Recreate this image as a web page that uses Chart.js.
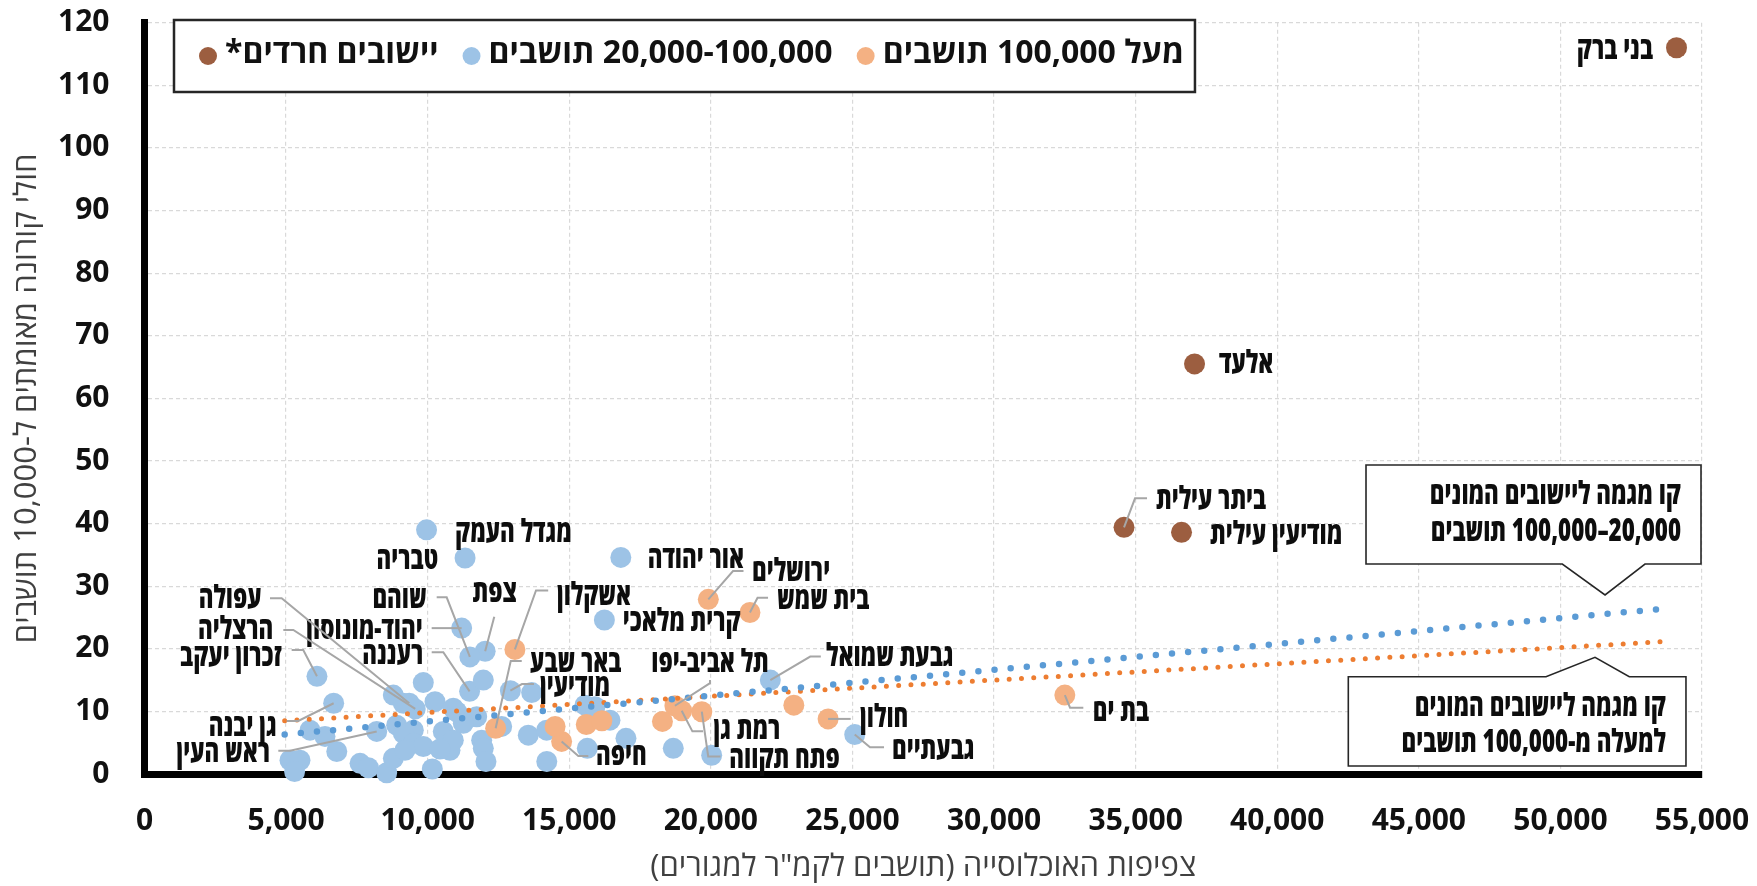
<!DOCTYPE html>
<html lang="he">
<head>
<meta charset="utf-8">
<title>צפיפות האוכלוסייה וחולי קורונה</title>
<script src="https://cdn.jsdelivr.net/npm/chart.js@4.4.1/dist/chart.umd.min.js"></script>
<style>
  html, body { margin: 0; padding: 0; background: #fff; }
  canvas { display: block; }
</style>
</head>
<body>
<canvas id="myChart" width="1757" height="886" dir="rtl"></canvas>
<script>
// יישובים חרדים
var haredimNames = ['בני ברק', 'אלעד', 'ביתר עילית', 'מודיעין עילית']
var haredimX = [54100, 37080, 34590, 36620]
var haredimY = [116, 65.5, 39.4, 38.6]

// מעל 100,000 תושבים
var bigNames = ['ירושלים', 'בית שמש', 'אשקלון', 'באר שבע', 'בת ים', 'חולון', 'תל אביב-יפו', 'רמת גן', 'פתח תקווה', 'חיפה', '', '', '', '', '']
var bigX = [19910, 21380, 13080, 12400, 32500, 24140, 18730, 18970, 19680, 14730, 14500, 15600, 16150, 18290, 22930]
var bigY = [27.9, 25.8, 19.9, 7.3, 12.6, 8.8, 10.9, 10.1, 9.95, 5.2, 7.6, 7.9, 8.5, 8.4, 11.0]

// 20,000-100,000 תושבים
var midNames = ['מגדל העמק', 'טבריה', 'אור יהודה', 'קרית מלאכי', 'יהוד-מונוסון', 'צפת', 'שוהם', 'זכרון יעקב',
      'רעננה', 'מודיעין', 'עפולה', 'הרצליה', 'גן יבנה', 'ראש העין', 'גבעת שמואל', 'גבעתיים']
var midX = [9960, 11320, 16820, 16240, 11200, 12030, 11490, 6090, 11480, 12920, 9350, 9560, 6680, 8200, 22100, 25080,
      9845, 8786, 9139, 10258, 10904, 11024, 11258, 11730, 11964, 13672, 5844, 6374, 5138, 5491, 5300, 6790,
      7612, 7906, 8553, 8788, 8905, 9492, 9139, 9492, 9845, 9198, 10163, 10551, 10787, 10904, 10434, 11258,
      11906, 11964, 12058, 12612, 13553, 14200, 14206, 15554, 15907, 15637, 16437, 17002, 18673, 20028]
var midY = [39.0, 34.5, 34.6, 24.6, 23.3, 19.6, 18.7, 15.6, 13.2, 13.3, 11.3, 10.4, 11.3, 6.8, 15.0, 6.3,
      14.6, 12.6, 11.3, 11.55, 10.5, 9.95, 8.9, 9.15, 15.0, 13.0, 7.0, 6.0, 2.2, 2.2, 0.4, 3.6,
      1.7, 1.0, 0.2, 2.5, 7.8, 7.0, 6.5, 4.9, 4.4, 3.8, 0.8, 6.8, 3.8, 5.4, 4.0, 8.1,
      5.4, 4.1, 2.0, 7.6, 6.2, 7.0, 2.0, 11.0, 10.75, 4.1, 8.6, 5.7, 4.1, 3.0]

// קווי מגמה (נקודות קצה)
var trendMidX = [4950, 53650]
var trendMidY = [6.3, 26.4]
var trendBigX = [4950, 53870]
var trendBigY = [8.5, 21.2]

var xTitle = 'צפיפות האוכלוסייה (תושבים לקמ"ר למגורים)'
var yTitle = 'חולי קורונה מאומתים ל-10,000 תושבים'

// where each name goes, in pixels from its point
var labelSpots = {
      'בני ברק': { align: 'right', dx: -23.5, dy: 2 },
      'אלעד': { align: 'left', dx: 24.5, dy: 0 },
      'ביתר עילית': { align: 'left', dx: 32, dy: -27, leader: [[11, -29], [23, -29]] },
      'מודיעין עילית': { align: 'left', dx: 28.5, dy: 2.7 },
      'ירושלים': { align: 'left', dx: 43.7, dy: -27.3, leader: [[24.7, -28.3], [35.2, -28.3]] },
      'בית שמש': { align: 'left', dx: 27, dy: -12.5, leader: [[7.6, -14.8], [18.1, -14.8]] },
      'אשקלון': { align: 'left', dx: 42, dy: -53, leader: [[21.1, -59], [33.3, -59]] },
      'באר שבע': { align: 'left', dx: 34.4, dy: -65.3, leader: [[15.1, -67.3], [26.1, -67.3]] },
      'בת ים': { align: 'left', dx: 27.9, dy: 16.6, leader: [[5.2, 12.6], [18.5, 12.6]] },
      'חולון': { align: 'left', dx: 32, dy: -1, leader: [[22.6, 0]] },
      'תל אביב-יפו': { align: 'center', dx: 35.1, dy: -42.8, leader: [[35.1, -22.6], [35.1, -25.8]] },
      'רמת גן': { align: 'left', dx: 31.8, dy: 19.2, leader: [[10.7, 20.6], [21.3, 20.6]] },
      'פתח תקווה': { align: 'left', dx: 27.5, dy: 47.3, leader: [[6.4, 44.7], [18.7, 44.7]] },
      'חיפה': { align: 'left', dx: 34.4, dy: 15, leader: [[16.7, 14.6], [26.7, 14.6]] },
      'מגדל העמק': { align: 'left', dx: 28.5, dy: 2.9 },
      'טבריה': { align: 'right', dx: -26.8, dy: 2 },
      'אור יהודה': { align: 'left', dx: 26.9, dy: 2.1 },
      'קרית מלאכי': { align: 'left', dx: 18.4, dy: 1.7 },
      'יהוד-מונוסון': { align: 'right', dx: -39, dy: 2, leader: [[-30, 0]] },
      'צפת': { align: 'center', dx: 9.5, dy: -58, leader: [[9.1, -34.6]] },
      'שוהם': { align: 'right', dx: -43.2, dy: -57.6, leader: [[-23.2, -59.6], [-33.2, -59.6]] },
      'רעננה': { align: 'right', dx: -46.3, dy: -36.4, leader: [[-26.3, -39.1], [-37.9, -39.1]] },
      'מודיעין': { align: 'left', dx: 29.6, dy: -3.7, leader: [[11.6, -6.7], [23.6, -6.7]] },
      'עפולה': { align: 'right', dx: -147.6, dy: -104, leader: [[-127.6, -105], [-139.3, -105]] },
      'הרצליה': { align: 'right', dx: -141.9, dy: -78.9, leader: [[-121.9, -78.9], [-131.9, -78.9]] },
      'זכרון יעקב': { align: 'right', dx: -35.3, dy: -19.6, leader: [[-13.7, -26.3], [-25.3, -26.3]] },
      'גן יבנה': { align: 'right', dx: -57, dy: 23.4, leader: [[-35.4, 17.7], [-47, 17.7]] },
      'ראש העין': { align: 'right', dx: -106.7, dy: 21.9, leader: [[-86.7, 19.3], [-98.4, 19.3]] },
      'גבעת שמואל': { align: 'left', dx: 55.7, dy: -23.5, leader: [[39.9, -23.5], [50.5, -23.5]] },
      'גבעתיים': { align: 'left', dx: 37.3, dy: 15.1, leader: [[15.3, 12.8], [29.3, 12.8]] }
}

// callout boxes, in axis units
var callouts = [
      { lines: ['קו מגמה ליישובים המונים', '20,000–100,000 תושבים'], side: 'bottom',
            left: 43135, right: 54965, top: 49.35, bottom: 33.54, tipX: 51576, tipY: 28.59, baseFrom: 50067, baseTo: 52987 },
      { lines: ['קו מגמה ליישובים המונים', 'למעלה מ-100,000 תושבים'], side: 'top',
            left: 42510, right: 54434, top: 15.54, bottom: 1.28, tipX: 51222, tipY: 18.64, baseFrom: 49491, baseTo: 52432 }
]

function toPoints(xs, ys) {
      return xs.map(function (x, i) { return { x: x, y: ys[i] } })
}

// heavy and squeezed, the way the names look in the original
var labelScale = 0.71
function drawName(c, text, x, y, align) {
      c.save()
      c.font = '800 31.5px "Open Sans"'
      c.direction = 'rtl'
      c.textAlign = align
      c.textBaseline = 'middle'
      c.fillStyle = '#0d0d0d'
      c.translate(x, y)
      c.scale(labelScale, 1)
      c.fillText(text, 0, 0)
      c.restore()
}

var pointLabels = {
      id: 'pointLabels',
      afterDatasetsDraw: function (chart) {
            var c = chart.ctx
            chart.data.datasets.forEach(function (ds, d) {
                  if (!ds.names) return
                  var meta = chart.getDatasetMeta(d)
                  ds.names.forEach(function (name, i) {
                        var spot = labelSpots[name]
                        if (!spot) return
                        var p = meta.data[i]
                        if (spot.leader) {
                              c.save()
                              c.strokeStyle = '#a6a6a6'
                              c.lineWidth = 2
                              c.beginPath()
                              c.moveTo(p.x, p.y)
                              spot.leader.forEach(function (q) { c.lineTo(p.x + q[0], p.y + q[1]) })
                              c.stroke()
                              c.restore()
                        }
                        drawName(c, name, p.x + spot.dx, p.y + spot.dy, spot.align)
                  })
            })
      }
}

var calloutBoxes = {
      id: 'calloutBoxes',
      afterDatasetsDraw: function (chart) {
            var c = chart.ctx
            var xs = chart.scales.x, ys = chart.scales.y
            callouts.forEach(function (co) {
                  var l = xs.getPixelForValue(co.left), r = xs.getPixelForValue(co.right)
                  var t = ys.getPixelForValue(co.top), b = ys.getPixelForValue(co.bottom)
                  var tx = xs.getPixelForValue(co.tipX), ty = ys.getPixelForValue(co.tipY)
                  var b1 = xs.getPixelForValue(co.baseFrom), b2 = xs.getPixelForValue(co.baseTo)
                  c.save()
                  c.beginPath()
                  c.moveTo(l, t)
                  if (co.side === 'top') { c.lineTo(b1, t); c.lineTo(tx, ty); c.lineTo(b2, t) }
                  c.lineTo(r, t)
                  c.lineTo(r, b)
                  if (co.side === 'bottom') { c.lineTo(b2, b); c.lineTo(tx, ty); c.lineTo(b1, b) }
                  c.lineTo(l, b)
                  c.closePath()
                  c.fillStyle = '#fff'
                  c.fill()
                  c.strokeStyle = '#262626'
                  c.lineWidth = 1.6
                  c.stroke()
                  c.restore()
                  co.lines.forEach(function (line, k) {
                        drawName(c, line, r - 20, t + 30 + k * 36.7, 'right')
                  })
            })
      }
}

var legendBox = {
      id: 'legendBox',
      afterDraw: function (chart) {
            var c = chart.ctx
            var order = [3, 4, 2]
            var left = 174, top = 20, height = 72
            c.save()
            c.font = 'bold 32px "Open Sans"'
            c.direction = 'rtl'
            c.textBaseline = 'middle'
            c.textAlign = 'left'
            var x = left + 34
            var items = order.map(function (d) {
                  var ds = chart.data.datasets[d]
                  var item = { dot: x, text: x + 17, label: ds.label, color: ds.backgroundColor }
                  x = item.text + c.measureText(ds.label).width + 33
                  item.end = x - 33
                  return item
            })
            var right = items[items.length - 1].end + 11
            c.fillStyle = '#fff'
            c.fillRect(left, top, right - left, height)
            c.strokeStyle = '#262626'
            c.lineWidth = 2.5
            c.strokeRect(left, top, right - left, height)
            items.forEach(function (it) {
                  c.fillStyle = it.color
                  c.beginPath()
                  c.arc(it.dot, top + 36, 9, 0, Math.PI * 2)
                  c.fill()
                  c.fillStyle = '#111'
                  c.fillText(it.label, it.text, top + 34)
            })
            c.restore()
      }
}

// keep the plot box where the reference has it
function noPadding(scale) {
      scale.paddingTop = 0
      scale.paddingBottom = 0
      scale.paddingLeft = 0
      scale.paddingRight = 0
}

var ctx = document.getElementById('myChart')

var tickFont = { family: 'Open Sans', size: 30, weight: 'bold' }
var titleFont = { family: 'Open Sans', size: 31 }

var myChart = new Chart(ctx, {
      type: 'scatter',
      data: {
            datasets: [{
                  label: 'מגמה 20,000-100,000',
                  data: toPoints(trendMidX, trendMidY),
                  showLine: true,
                  pointRadius: 0,
                  borderColor: '#5b9bd5',
                  borderWidth: 6.5,
                  borderDash: [0, 16.2],
                  borderCapStyle: 'round'
            }, {
                  label: 'מגמה מעל 100,000',
                  data: toPoints(trendBigX, trendBigY),
                  showLine: true,
                  pointRadius: 0,
                  borderColor: '#ed7d31',
                  borderWidth: 5,
                  borderDash: [0, 12.3],
                  borderCapStyle: 'round'
            }, {
                  label: 'מעל 100,000 תושבים',
                  names: bigNames,
                  data: toPoints(bigX, bigY),
                  backgroundColor: '#f4b183',
                  pointRadius: 10.5,
                  pointBorderWidth: 0,
                  clip: false
            }, {
                  label: 'יישובים חרדים*',
                  names: haredimNames,
                  data: toPoints(haredimX, haredimY),
                  backgroundColor: '#9c5e40',
                  pointRadius: 10.5,
                  pointBorderWidth: 0,
                  clip: false
            }, {
                  label: '20,000-100,000 תושבים',
                  names: midNames,
                  data: toPoints(midX, midY),
                  backgroundColor: '#9dc3e6',
                  pointRadius: 10.5,
                  pointBorderWidth: 0,
                  clip: false
            }]
      },
      options: {
            animation: false,
            responsive: false,
            events: [],
            layout: {
                  padding: { top: 22.7, right: 55, bottom: 0, left: 0 }
            },
            plugins: {
                  legend: { display: false },
                  tooltip: { enabled: false }
            },
            scales: {
                  x: {
                        type: 'linear',
                        min: 0,
                        max: 55000,
                        afterFit: function (scale) { scale.height = 112; noPadding(scale) },
                        ticks: {
                              stepSize: 5000,
                              autoSkip: false,
                              maxRotation: 0,
                              padding: 29,
                              color: '#111',
                              font: tickFont,
                              callback: function (v) { return v.toLocaleString('en-US') }
                        },
                        grid: { color: '#d9d9d9', lineWidth: 1.2, drawTicks: false },
                        border: { display: true, color: '#000', width: 7, dash: [4, 3] },
                        title: { display: true, text: xTitle, color: '#404040', font: titleFont, padding: { top: 0, bottom: 0 } }
                  },
                  y: {
                        min: 0,
                        max: 120,
                        afterFit: function (scale) { scale.width = 144.5; noPadding(scale) },
                        ticks: {
                              stepSize: 10,
                              padding: 35,
                              color: '#111',
                              font: tickFont
                        },
                        grid: { color: '#d9d9d9', lineWidth: 1.2, drawTicks: false },
                        border: { display: true, color: '#000', width: 7, dash: [4, 3] },
                        title: { display: true, text: yTitle, color: '#404040', font: titleFont, padding: { top: 8.5, bottom: 0 } }
                  }
            }
      },
      plugins: [pointLabels, calloutBoxes, legendBox]
})
</script>
</body>
</html>
